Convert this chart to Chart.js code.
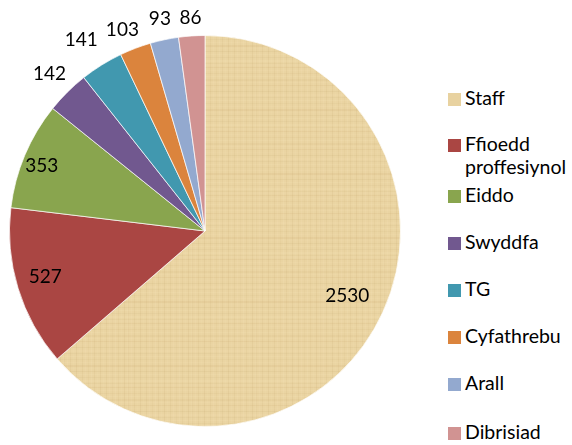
<!DOCTYPE html>
<html><head><meta charset="utf-8">
<script src="https://cdn.jsdelivr.net/npm/chart.js@4"></script>
<style>
html,body{margin:0;padding:0;background:#fff;}
#wrap{position:relative;width:572px;height:445px;overflow:hidden;}
#cv{position:absolute;left:0;top:0;}
#box{position:absolute;left:0;top:0;width:410px;height:445px;}
#legend{position:absolute;left:448px;top:0;font-family:"Lato","Open Sans",sans-serif;font-size:19.5px;color:#000;}
.li{position:absolute;left:0;white-space:nowrap;line-height:23px;}
.sw{position:absolute;left:0;top:7px;width:13px;height:13px;}
.tx{position:absolute;left:17px;top:0;}
</style></head>
<body>
<div id="wrap"><div id="box"><canvas id="cv"></canvas></div><div id="legend"></div></div>
<script>
const categories = ["Staff", "Ffioedd proffesiynol", "Eiddo", "Swyddfa", "TG", "Cyfathrebu", "Arall", "Dibrisiad"];
const legendLines = [["Staff"], ["Ffioedd", "proffesiynol"], ["Eiddo"], ["Swyddfa"], ["TG"], ["Cyfathrebu"], ["Arall"], ["Dibrisiad"]];
const values = [2530, 527, 353, 142, 141, 103, 93, 86];
const colors = ["#E8D2A0", "#AA4643", "#89A54E", "#71588F", "#4198AF", "#DB843D", "#93A9CF", "#D19392"];
const labelRadius = [0.8, 0.85, 0.9, 1.13, 1.165, 1.11, 1.11, 1.095];
const labelAngleShift = [0, 1, -1, 0, -1, -1.5, 0, 0];
const legendTops = [86, 132, 183, 230, 277, 324, 371, 420];

// papyrus-like texture for the Staff slice
function papyrus() {
  const c = document.createElement('canvas');
  c.width = 64; c.height = 64;
  const g = c.getContext('2d');
  g.fillStyle = '#EAD4A2'; g.fillRect(0, 0, 64, 64);
  for (let i = 0; i < 64; i += 3) {
    const a = 0.06 + 0.06 * Math.abs(Math.sin(i * 1.7));
    g.fillStyle = (i % 2 ? 'rgba(190,160,100,' : 'rgba(255,240,200,') + a + ')';
    g.fillRect(0, i, 64, 1 + (i % 5 === 0 ? 1 : 0));
    g.fillStyle = (i % 2 ? 'rgba(255,240,200,' : 'rgba(190,160,100,') + a + ')';
    g.fillRect(i, 0, 1, 64);
  }
  return g.createPattern(c, 'repeat');
}
const bg = colors.slice();
bg[0] = papyrus();

const labelPlugin = {
  id: 'sliceLabels',
  afterDatasetsDraw(chart) {
    const ctx = chart.ctx;
    const meta = chart.getDatasetMeta(0);
    ctx.save();
    ctx.font = '19px "Lato","Open Sans",sans-serif';
    ctx.fillStyle = '#000';
    ctx.textAlign = 'center';
    ctx.textBaseline = 'middle';
    meta.data.forEach((arc, i) => {
      const p = arc.getProps(['x', 'y', 'startAngle', 'endAngle', 'outerRadius'], true);
      const mid = (p.startAngle + p.endAngle) / 2 + labelAngleShift[i] * Math.PI / 180;
      const r = p.outerRadius * labelRadius[i];
      ctx.fillText(String(values[i]), p.x + Math.cos(mid) * r, p.y + Math.sin(mid) * r);
    });
    ctx.restore();
  }
};

new Chart(document.getElementById('cv'), {
  type: 'pie',
  data: {
    labels: categories,
    datasets: [{ data: values, backgroundColor: bg, borderColor: 'rgba(255,255,255,0.7)', borderWidth: 1 }]
  },
  options: {
    responsive: true,
    maintainAspectRatio: false,
    animation: false,
    layout: { padding: { left: 9, right: 9, top: 35, bottom: 18 } },
    plugins: { legend: { display: false }, tooltip: { enabled: false } }
  },
  plugins: [labelPlugin]
});

const lg = document.getElementById('legend');
legendLines.forEach((lines, i) => {
  const d = document.createElement('div');
  d.className = 'li';
  d.style.top = legendTops[i] + 'px';
  const s = document.createElement('div');
  s.className = 'sw'; s.style.background = colors[i];
  const t = document.createElement('div');
  t.className = 'tx'; t.innerHTML = lines.join('<br>');
  d.appendChild(s); d.appendChild(t);
  lg.appendChild(d);
});
</script>
</body></html>
